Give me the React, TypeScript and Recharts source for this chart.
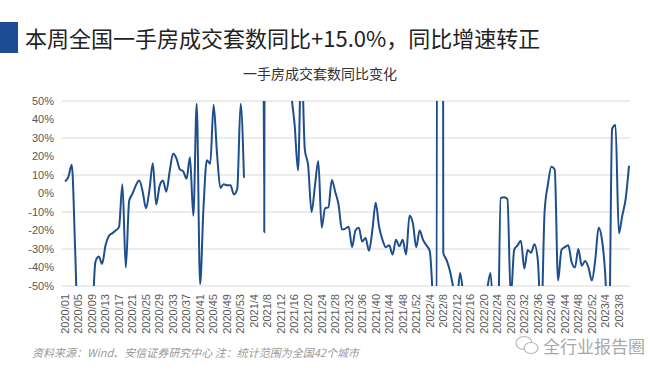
import React from 'react';
import { LineChart, Line, XAxis, YAxis, CartesianGrid } from 'recharts';

// weekly YoY change (%) of new-home transactions
const yoy2020 = [
  6.5, 9, 15.5, -30, -85, -92, -90, -85, -70, -37, -34, -38, -28, -23, -21.5, -20, -18, 5, -40, -4,
  0, 4.5, 7, 1, -8, 2, 16.3, -6, 4, 7, 1, 12, 21.5, 19, 13, 12, 8, 19.6, -12, 48.5,
  -49, -8, 18, 16, 48, 22, 3, 5, 4.5, 4.5, -0.5, 2.5, 48.5,
];
const yoy2021 = [
  8.5, null, null, null, null, 900, -21, 1200, 1500, 900, 400, 250, 150, 90, 55, 37, 12.5, 75, 24, 15,
  -10, 4, 17.6, -18.5, -8, -7.5, 7.3, 1, -6, -19.5, -19, -18, -29, -20, -18.5, -26, -24, -31, -20, -5,
  -18, -25, -29, -28, -33, -25, -28.5, -25, -33, -12, -16, -29,
];
const yoy2022 = [
  -20, -25, -28, -31, -60, -95, 2500, -32, -36, -42, -51, -58, -43, -56, -70, -78, -80, -75, -72, -65,
  -52, -43, -75, -95, -2.5, -2, -3, -56, -30.5, -28, -25.5, -40.5, -30.5, -32, -27.5, -36, -70, -10, 5, 14.5,
  13, -47, -30.5, -29, -28, -37, -40, -30, -39, -36.5, -40, -47,
];
const yoy2023 = [-36, -18.5, -25, -45, -90, 35, 37, -21.5, -12, -3, 15];

const years = [2020, 2021, 2022, 2023];
const yearValues = [yoy2020, yoy2021, yoy2022, yoy2023];
const yTicks = [-50, -40, -30, -20, -10, 0, 10, 20, 30, 40, 50];

const data: { week: string; yoy: number | null }[] = [];
years.forEach((yr, k) => {
  yearValues[k].forEach((v, w) => {
    const wk = yr === 2020 ? String(w + 1).padStart(2, '0') : String(w + 1);
    data.push({ week: `${yr}/${wk}`, yoy: v });
  });
});

const TICK_FONT = '"Liberation Sans", Arial, sans-serif';
const CJK_FONT = '"Noto Sans CJK SC", "Noto Sans", sans-serif';

const WeekTick = (props: any) => {
  const { x, y, payload } = props;
  return (
    <text
      x={x}
      y={y}
      transform={`rotate(-90, ${x}, ${y})`}
      textAnchor="end"
      dy="0.35em"
      fill="#595959"
      fontSize={11}
      fontFamily={TICK_FONT}
    >
      {payload.value}
    </text>
  );
};

export default function App() {
  return (
    <div style={{ position: 'absolute', left: 0, top: 0, width: 660, height: 372, background: '#fff', overflow: 'hidden' }}>
      <div style={{ position: 'absolute', left: 0, top: 22, width: 18, height: 31, background: '#1c4a93' }} />
      <div
        style={{
          position: 'absolute', left: 25, top: 22, fontFamily: CJK_FONT, fontSize: 22,
          lineHeight: '30px', color: '#222', whiteSpace: 'nowrap',
        }}
      >
        本周全国一手房成交套数同比+15.0%，同比增速转正
      </div>
      <div
        style={{
          position: 'absolute', left: 243, top: 64, fontFamily: CJK_FONT,
          fontSize: 14, lineHeight: '18px', color: '#333', whiteSpace: 'nowrap',
        }}
      >
        一手房成交套数同比变化
      </div>

      <div style={{ position: 'absolute', left: 0, top: 0 }}>
        <LineChart width={660} height={372} data={data} margin={{ top: 101, right: 30, bottom: 36, left: 7 }}>
          <CartesianGrid vertical={false} stroke="#d9d9d9" />
          <XAxis
            dataKey="week"
            interval={3}
            tick={<WeekTick />}
            tickLine={false}
            axisLine={false}
            height={50}
            padding={{ left: 3, right: 1 }}
          />
          <YAxis
            type="number"
            domain={[-50, 50]}
            ticks={yTicks}
            allowDataOverflow={true}
            width={55}
            axisLine={false}
            tickLine={false}
            tickFormatter={(v) => `${v}%`}
            tick={{ fill: '#595959', fontSize: 11, fontFamily: TICK_FONT }}
          />
          <Line
            type="monotone"
            dataKey="yoy"
            stroke="#1f4e8c"
            strokeWidth={2}
            dot={false}
            activeDot={false}
            connectNulls={false}
            isAnimationActive={false}
          />
        </LineChart>
      </div>

      <div
        style={{
          position: 'absolute', left: 32, top: 344, fontFamily: CJK_FONT, fontSize: 11, fontStyle: 'italic',
          color: '#999', whiteSpace: 'nowrap',
        }}
      >
        资料来源：Wind、安信证券研究中心 注：统计范围为全国42个城市
      </div>
      <svg style={{ position: 'absolute', left: 514, top: 334 }} width={26} height={22}>
        <ellipse cx={10} cy={9} rx={8} ry={6.5} fill="none" stroke="#b5b5b5" strokeWidth={1.2} />
        <ellipse cx={17} cy={14} rx={7} ry={5.5} fill="#fff" stroke="#b5b5b5" strokeWidth={1.2} />
      </svg>
      <div
        style={{
          position: 'absolute', left: 543, top: 333, fontFamily: CJK_FONT, fontSize: 17,
          color: '#a8a8a8', whiteSpace: 'nowrap',
        }}
      >
        全行业报告圈
      </div>
    </div>
  );
}
